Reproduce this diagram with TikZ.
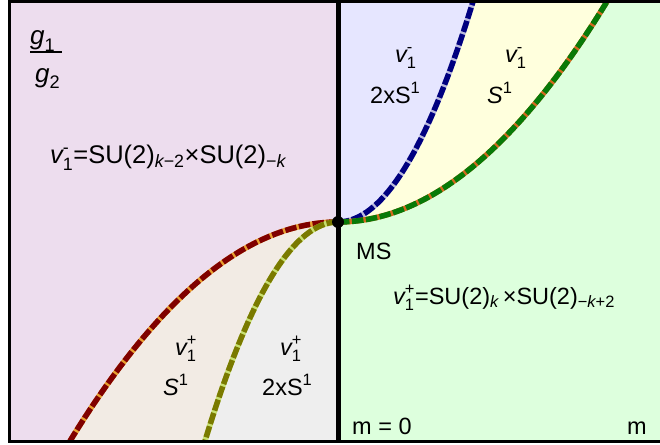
\documentclass[tikz,border=0pt]{standalone}
\usepackage{fontspec}
\usepackage{amsmath}
\setmainfont{Liberation Sans}
\definecolor{pinkbg}{HTML}{EDDDEE}
\definecolor{greenbg}{HTML}{DDFFDD}
\definecolor{bluebg}{HTML}{E6E6FF}
\definecolor{yellowbg}{HTML}{FFFFDD}
\definecolor{beigebg}{HTML}{F2EBE4}
\definecolor{graybg}{HTML}{EEEEEE}
\definecolor{blueline}{HTML}{000080}
\definecolor{bluegap}{HTML}{B8B8DC}
\definecolor{greenline}{HTML}{087A08}
\definecolor{greengap}{HTML}{D2691E}
\definecolor{redline}{HTML}{800000}
\definecolor{redgap}{HTML}{E8A030}
\definecolor{oliveline}{HTML}{7A7A00}
\definecolor{olivegap}{HTML}{C8E070}
\newcommand\vlab[1]{$\text{\itshape v}^{\text{#1}}_{\text{1}}$}
\begin{document}
\begin{tikzpicture}[x=1pt,y=-1pt,
  lab/.style={anchor=base west, inner sep=0pt, font=\fontsize{23.5}{28}\selectfont},
  glab/.style={anchor=base west, inner sep=0pt, font=\fontsize{26}{30}\selectfont},
  biglab/.style={anchor=base west, inner sep=0pt, font=\fontsize{25.5}{30}\selectfont},
  bnd/.style={line width=5.5pt, draw=#1gap, postaction={draw=#1line, line width=5.5pt, dash pattern=on 11.5pt off 2.5pt}},
  frame/.style={line width=3pt, draw=black}]
\useasboundingbox (0,0) rectangle (660,444);
\coordinate (C) at (338,222);
\coordinate (B) at (473,1.5);
\coordinate (G) at (607,1.5);
\coordinate (R) at (70,441);
\coordinate (O) at (205,441);
\coordinate (TL) at (9,1.5);
\coordinate (TM) at (338,1.5);
\coordinate (TR) at (660,1.5);
\coordinate (BL) at (9,441);
\coordinate (BM) at (338,441);
\coordinate (BR) at (660,441);
% region fills
\fill[pinkbg] (TL) rectangle (BM);
\fill[greenbg] (TM) rectangle (BR);
\fill[bluebg] (C) .. controls (383,222) and (428,148.5) .. (B) -- (TM) -- cycle;
\fill[yellowbg] (C) .. controls (383,222) and (428,148.5) .. (B) -- (G) .. controls (517.3,148.5) and (427.7,222) .. (C) -- cycle;
\fill[beigebg] (C) .. controls (248.7,222) and (159.3,295) .. (R) -- (O) .. controls (249.3,295) and (293.7,222) .. (C) -- cycle;
\fill[graybg] (C) .. controls (293.7,222) and (249.3,295) .. (O) -- (BM) -- cycle;
% boundaries
\draw[bnd=blue] (C) .. controls (383,222) and (428,148.5) .. (B);
\draw[bnd=green] (C) .. controls (427.7,222) and (517.3,148.5) .. (G);
\draw[bnd=red] (C) .. controls (248.7,222) and (159.3,295) .. (R);
\draw[bnd=olive] (C) .. controls (293.7,222) and (249.3,295) .. (O);
% frame
\draw[frame] (TR) -- (TL) -- (BL) -- (BR);
\draw[line width=5pt] (TM) -- (BM);
\fill (C) circle (6pt);
% labels
\node[glab] (g1) at (30,45) {$\text{\itshape g}_{\text{1}}$};
\draw[line width=1.2pt] (30,52) -- (62,52);
\node[glab] (g2) at (35,82) {$\text{\itshape g}_{\text{2}}$};
\node[biglab] (lf) at (50,163) {\vlab{-}=SU(2)$_{\text{\itshape k}\text{−2}}$×SU(2)$_{\text{−\itshape k}}$};
\node[lab] (rf) at (393,304) {\vlab{+}=SU(2)$_{\text{\itshape k}}$\,×SU(2)$_{\text{−\itshape k}\text{+2}}$};
\node[lab] (ms) at (356,259) {MS};
\node[lab] (m0) at (352,434) {m = 0};
\node[lab] (m) at (627,434) {m};
\node[lab] (bv) at (395,62) {\vlab{-}};
\node[lab] (bs) at (370,103) {2xS$^{\text{1}}$};
\node[lab] (yv) at (505,62) {\vlab{-}};
\node[lab] (ys) at (487,103) {\itshape S$^{\text{\upshape 1}}$};
\node[lab] (ev) at (175,355) {\vlab{+}};
\node[lab] (es) at (163,395) {\itshape S$^{\text{\upshape 1}}$};
\node[lab] (gv) at (280,355) {\vlab{+}};
\node[lab] (gs) at (262,395) {2xS$^{\text{1}}$};
\end{tikzpicture}
\end{document}
